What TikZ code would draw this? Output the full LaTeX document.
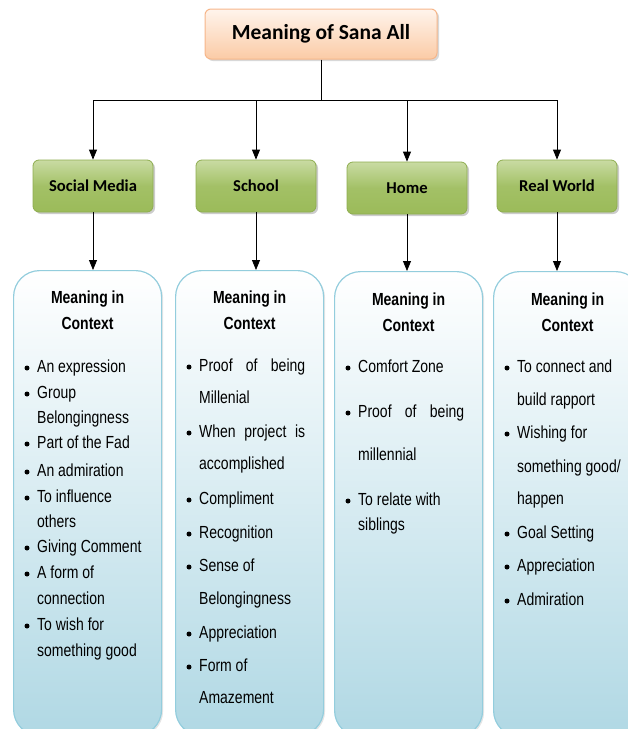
\documentclass[tikz,border=0pt]{standalone}
\usepackage{fontspec}
\setmainfont{Liberation Sans}
\newfontfamily\narrowfont{Liberation Sans}[FakeStretch=0.8]
\newfontfamily\calibrifont{Carlito}
\usetikzlibrary{positioning,shapes,arrows.meta,shadows}

\definecolor{peachtop}{HTML}{FFF4EC}
\definecolor{peachbot}{HTML}{FBCBA6}
\definecolor{peachline}{HTML}{F6B68A}
\definecolor{greentop}{HTML}{C9DBA3}
\definecolor{greenbot}{HTML}{9BBB59}
\definecolor{greenline}{HTML}{8EAD4F}
\definecolor{ctxbot}{HTML}{B0D8E4}
\definecolor{ctxline}{HTML}{93CDDD}

\begin{document}
\begin{tikzpicture}[x=1pt, y=-1pt,
    titlebox/.style={rectangle, rounded corners=6, draw=peachline, line width=1,
        top color=peachtop, bottom color=peachbot, minimum width=232, minimum height=50,
        font=\calibrifont\bfseries\fontsize{21.5}{24}\selectfont,
        drop shadow={shadow xshift=2pt, shadow yshift=-2pt, fill=black!30}},
    topicbox/.style={rectangle, rounded corners=6, draw=greenline, line width=0.8,
        top color=greentop, bottom color=greenbot, middle color=greenbot!92!white,
        minimum width=120, minimum height=52,
        font=\calibrifont\bfseries\fontsize{16.6}{19}\selectfont,
        drop shadow={shadow xshift=2pt, shadow yshift=-2pt, fill=black!40}},
    ctxbox/.style={rectangle, rounded corners=26, draw=ctxline, line width=1.2,
        top color=white, bottom color=ctxbot, anchor=north west,
        minimum width=148, minimum height=465,
        drop shadow={shadow xshift=1.5pt, shadow yshift=-1.5pt, fill=black!20}},
    ctxhead/.style={font=\narrowfont\bfseries\fontsize{17.5}{26}\selectfont, align=center},
    itemtext/.style={font=\narrowfont\fontsize{17.5}{20}\selectfont, anchor=west,
        inner sep=0, text height=12, text depth=4},
    arrow/.style={-{Triangle[length=10pt,width=8pt]}, line width=0.8}]

    \useasboundingbox (0,0) rectangle (628,729);
    \clip (0,0) rectangle (628,729);

    % Title and topics
    \node[titlebox] (title) at (321,34) {Meaning of Sana All};
    \node[topicbox] (sm) at (93,186) {Social Media};
    \node[topicbox] (sc) at (256,186) {School};
    \node[topicbox] (hm) at (407,188) {Home};
    \node[topicbox] (rw) at (557,186) {Real World};

    % Context boxes
    \node[ctxbox] (smc) at (13,270) {};
    \node[ctxbox] (scc) at (175,270) {};
    \node[ctxbox] (hmc) at (334,271) {};
    \node[ctxbox] (rwc) at (493,271) {};

    \node[ctxhead] (smh) at ([yshift=-40pt]smc.north) {Meaning in\\Context};
    \node[ctxhead] (sch) at ([yshift=-40pt]scc.north) {Meaning in\\Context};
    \node[ctxhead] (hmh) at ([yshift=-41pt]hmc.north) {Meaning in\\Context};
    \node[ctxhead] (rwh) at ([yshift=-41pt]rwc.north) {Meaning in\\Context};

    % Connect title and topics
    \draw[line width=0.8] (title.south) -- (title.south |- 0,100) coordinate (bus);
    \draw[line width=0.8] (sm.north |- bus) -- (rw.north |- bus);
    \foreach \t in {sm,sc,hm,rw}
        \draw[arrow] (\t.north |- bus) -- (\t.north);

    % Connect topics and context boxes
    \foreach \t in {sm,sc,hm,rw}
        \draw[arrow] (\t.south) -- (\t.south |- \t c.north);

    % Social Media items
    \foreach \y/\b/\t [count=\i] in {368/1/An expression, 394/1/Group, 419/0/Belongingness,
        444/1/Part of the Fad, 472/1/An admiration, 498/1/To influence, 523/0/others,
        548/1/Giving Comment, 574/1/A form of, 600/0/connection, 626/1/To wish for,
        652/0/something good}{
        \node[itemtext] (sm-\i) at (37,\y) {\t};
        \ifnum\b=1 \fill (sm-\i.west) ++(-10,0) circle (2.5); \fi
    }

    % School items
    \foreach \y/\b/\t [count=\i] in {367/1/{\makebox[106pt][s]{Proof of being}}, 399/0/Millenial,
        433/1/{\makebox[106pt][s]{When project is}}, 465/0/accomplished, 500/1/Compliment,
        534/1/Recognition, 567/1/Sense of, 600/0/Belongingness, 634/1/Appreciation,
        667/1/Form of, 699/0/Amazement}{
        \node[itemtext] (sc-\i) at (199,\y) {\t};
        \ifnum\b=1 \fill (sc-\i.west) ++(-10,0) circle (2.5); \fi
    }

    % Home items
    \foreach \y/\b/\t [count=\i] in {368/1/Comfort Zone, 413/1/{\makebox[106pt][s]{Proof of being}},
        456/0/millennial, 501/1/To relate with, 526/0/siblings}{
        \node[itemtext] (hm-\i) at (358,\y) {\t};
        \ifnum\b=1 \fill (hm-\i.west) ++(-10,0) circle (2.5); \fi
    }

    % Real World items
    \foreach \y/\b/\t [count=\i] in {368/1/To connect and, 401/0/build rapport, 434/1/Wishing for,
        468/0/{something good/}, 500/0/happen, 534/1/Goal Setting, 567/1/Appreciation,
        601/1/Admiration}{
        \node[itemtext] (rw-\i) at (517,\y) {\t};
        \ifnum\b=1 \fill (rw-\i.west) ++(-10,0) circle (2.5); \fi
    }
\end{tikzpicture}
\end{document}
